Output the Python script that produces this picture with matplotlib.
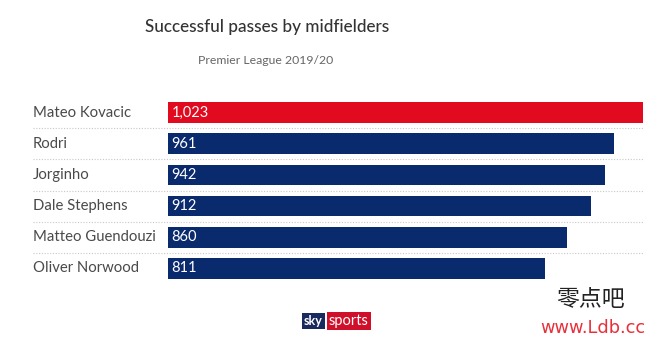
import matplotlib.pyplot as plt
from matplotlib.transforms import blended_transform_factory

# data
players = ["Mateo Kovacic", "Rodri", "Jorginho", "Dale Stephens",
           "Matteo Guendouzi", "Oliver Norwood"]
passes = [1023, 961, 942, 912, 860, 811]
value_labels = ["1,023", "961", "942", "912", "860", "811"]

RED = "#e10a1e"
NAVY = "#0a2a6e"
GREY_TEXT = "#4a4a4a"

plt.rcParams["font.family"] = ["Lato", "DejaVu Sans"]

fig = plt.figure(figsize=(6.63, 3.40), dpi=100)
fig.patch.set_facecolor("white")

# bar area in figure pixels: x 168..643, rows centred 113..268
W, H = 663, 340
ax = fig.add_axes([168 / W, 1 - 284 / H, 475 / W, (284 - 97) / H])
ax.set_xlim(0, 1023)
ax.set_ylim(len(players) - 0.5, -0.5)
ax.axis("off")

colors = [RED] + [NAVY] * (len(players) - 1)
ypos = list(range(len(players)))
ax.barh(ypos, passes, height=0.66, color=colors, zorder=2)

name_tf = blended_transform_factory(fig.transFigure, ax.transData)
for y, name, lab in zip(ypos, players, value_labels):
    ax.text(8, y, lab, color="white", fontsize=10.5, va="center",
            ha="left", zorder=3)
    fig.text(33 / W, y, name, transform=name_tf,
             color=GREY_TEXT, fontsize=10.7, va="center", ha="left")

# dotted separators between rows
for y in [i + 0.5 for i in range(len(players) - 1)]:
    ax.plot([-135 / 475 * 1023, 1023], [y, y], ls=(0, (1, 1.5)),
            color="#c8c8c8", lw=0.8, clip_on=False, zorder=1)

# titles
fig.text(267 / W, 1 - 27 / H, "Successful passes by midfielders",
         ha="center", va="center", fontsize=12.3, color="#333333",
         fontweight="medium")
fig.text(266 / W, 1 - 60 / H, "Premier League 2019/20",
         ha="center", va="center", fontsize=8.8, color="#666666")

# sky sports badge
fig.text(304 / W, 1 - 321 / H, "sky", ha="left", va="center",
         fontsize=9, fontweight="bold", color="white",
         bbox=dict(boxstyle="square,pad=0.18", fc="#1b2a5e", ec="none"))
fig.text(329 / W, 1 - 321 / H, "sports", ha="left", va="center",
         fontsize=10.5, color="white",
         bbox=dict(boxstyle="square,pad=0.12", fc="#d0102a", ec="none"))

# site mark
fig.text(591 / W, 1 - 299 / H, "零点吧", ha="center", va="center",
         fontsize=16.5, color="#222222",
         family=["Noto Sans CJK SC", "DejaVu Sans"])
fig.text(593 / W, 1 - 328 / H, "www.Ldb.cc", ha="center", va="center",
         fontsize=12.8, color="#e8303a", family="DejaVu Sans")

fig.savefig("out.png", dpi=100)
